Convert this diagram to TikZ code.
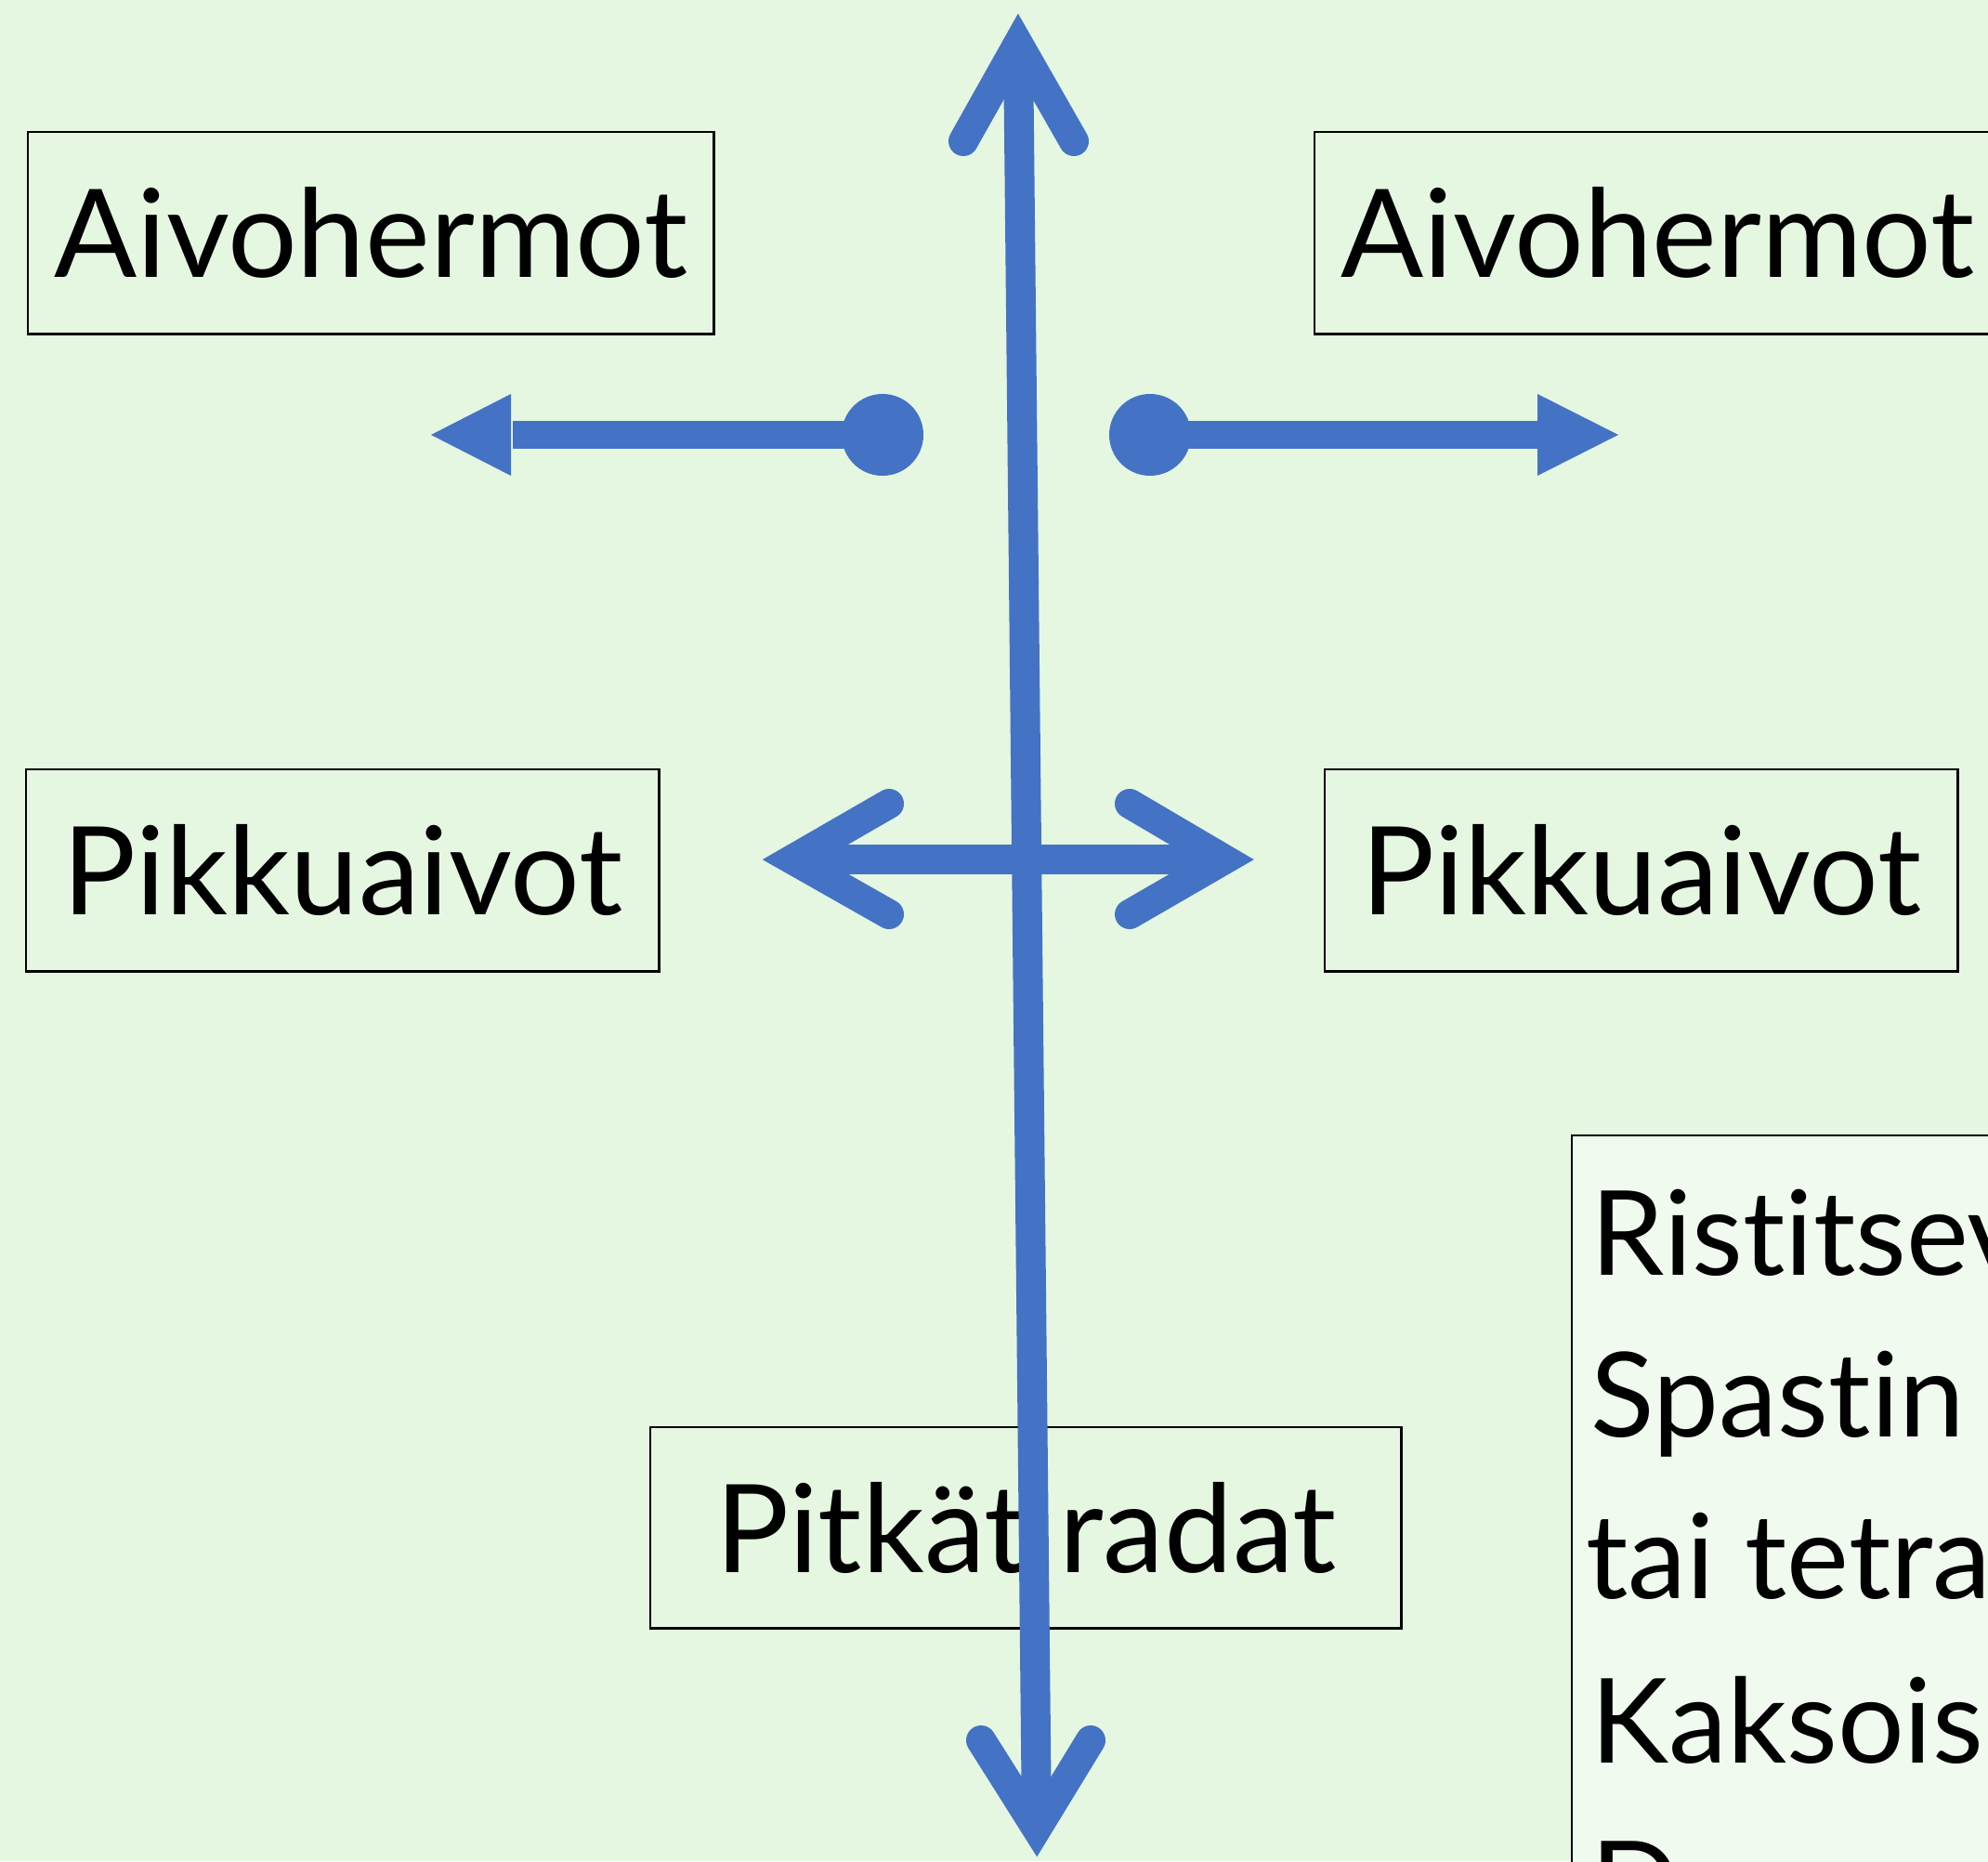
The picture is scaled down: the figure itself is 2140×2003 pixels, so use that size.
\documentclass[tikz,border=0pt]{standalone}
\usepackage{fontspec}
\setmainfont{Lato}[Ligatures=NoCommon]
\definecolor{bg}{HTML}{E5F7E0}
\definecolor{bgl}{HTML}{F0FAEE}
\definecolor{arr}{HTML}{4472C4}
\begin{document}
\begin{tikzpicture}[x=0.01cm,y=-0.01cm,
  lbl/.style={draw=black,line width=0.7pt,inner sep=0pt,anchor=north west},
  lbltext/.style={font=\fontsize{37.5}{46}\selectfont},
  bigtext/.style={anchor=base west,font=\fontsize{36}{44}\selectfont},
  thick arrow/.style={draw=arr,line width=9.1pt},
  chev/.style={draw=arr,line width=9.1pt,line cap=round,line join=miter},
  ]
\fill[bg] (0,0) rectangle (2140,2003);
\useasboundingbox (0,0) rectangle (2140,2003);
% boxes
\node[lbl,minimum width=7.38cm,minimum height=2.17cm] (a1) at (29,141) {};
\node[lbltext] (a1t) at (a1.center) {Aivohermot};
\node[lbl,minimum width=7.38cm,minimum height=2.17cm] (a2) at (1414,141) {};
\node[lbltext] (a2t) at (a2.center) {Aivohermot};
\node[lbl,minimum width=6.81cm,minimum height=2.17cm] (p1) at (27,827) {};
\node[lbltext] (p1t) at (p1.center) {Pikkuaivot};
\node[lbl,minimum width=6.81cm,minimum height=2.17cm] (p2) at (1425,827) {};
\node[lbltext] (p2t) at (p2.center) {Pikkuaivot};
\node[lbl,minimum width=8.08cm,minimum height=2.16cm] (r) at (699,1535) {};
\node[lbltext] (rt) at (r.center) {Pitkät radat};
\node[lbl,fill=bgl,minimum width=5cm,minimum height=8cm] (big) at (1691,1221) {};
\node[bigtext] (t1) at (1700,1372) {Ristitsev};
\node[bigtext] (t2) at (1700,1546) {Spastin};
\node[bigtext] (t3) at (1695,1720) {tai tetra};
\node[bigtext] (t4) at (1700,1897) {Kaksois};
\node[bigtext] (t5) at (1700,2072) {D};
% vertical arrow
\coordinate (vt) at (1096,47);
\coordinate (vb) at (1116,1968);
\draw[thick arrow] (vt) -- (vb);
\coordinate (vtl) at (1037,152);
\coordinate (vtr) at (1156,152);
\draw[chev] (vtl) -- (vt) -- (vtr);
\coordinate (vbl) at (1056,1873);
\coordinate (vbr) at (1174,1873);
\draw[chev] (vbl) -- (vb) -- (vbr);
% horizontal dot arrows
\coordinate (dl) at (950,468);
\coordinate (hl) at (552,468);
\draw[draw=arr,line width=8.8pt] (dl) -- (hl);
\fill[arr] (dl) circle (44);
\fill[arr] (550,424) -- (464,468) -- (550,512) -- cycle;
\coordinate (dr) at (1238,468);
\coordinate (hr) at (1657,468);
\draw[draw=arr,line width=8.8pt] (dr) -- (hr);
\fill[arr] (dr) circle (44);
\fill[arr] (1655,424) -- (1742,468) -- (1655,512) -- cycle;
% double arrow
\coordinate (ml) at (853,925);
\coordinate (mr) at (1318,925);
\draw[thick arrow] (ml) -- (mr);
\coordinate (mlu) at (957,865);
\coordinate (mld) at (957,984);
\draw[chev] (mlu) -- (ml) -- (mld);
\coordinate (mru) at (1216,865);
\coordinate (mrd) at (1216,984);
\draw[chev] (mru) -- (mr) -- (mrd);
\end{tikzpicture}
\end{document}
